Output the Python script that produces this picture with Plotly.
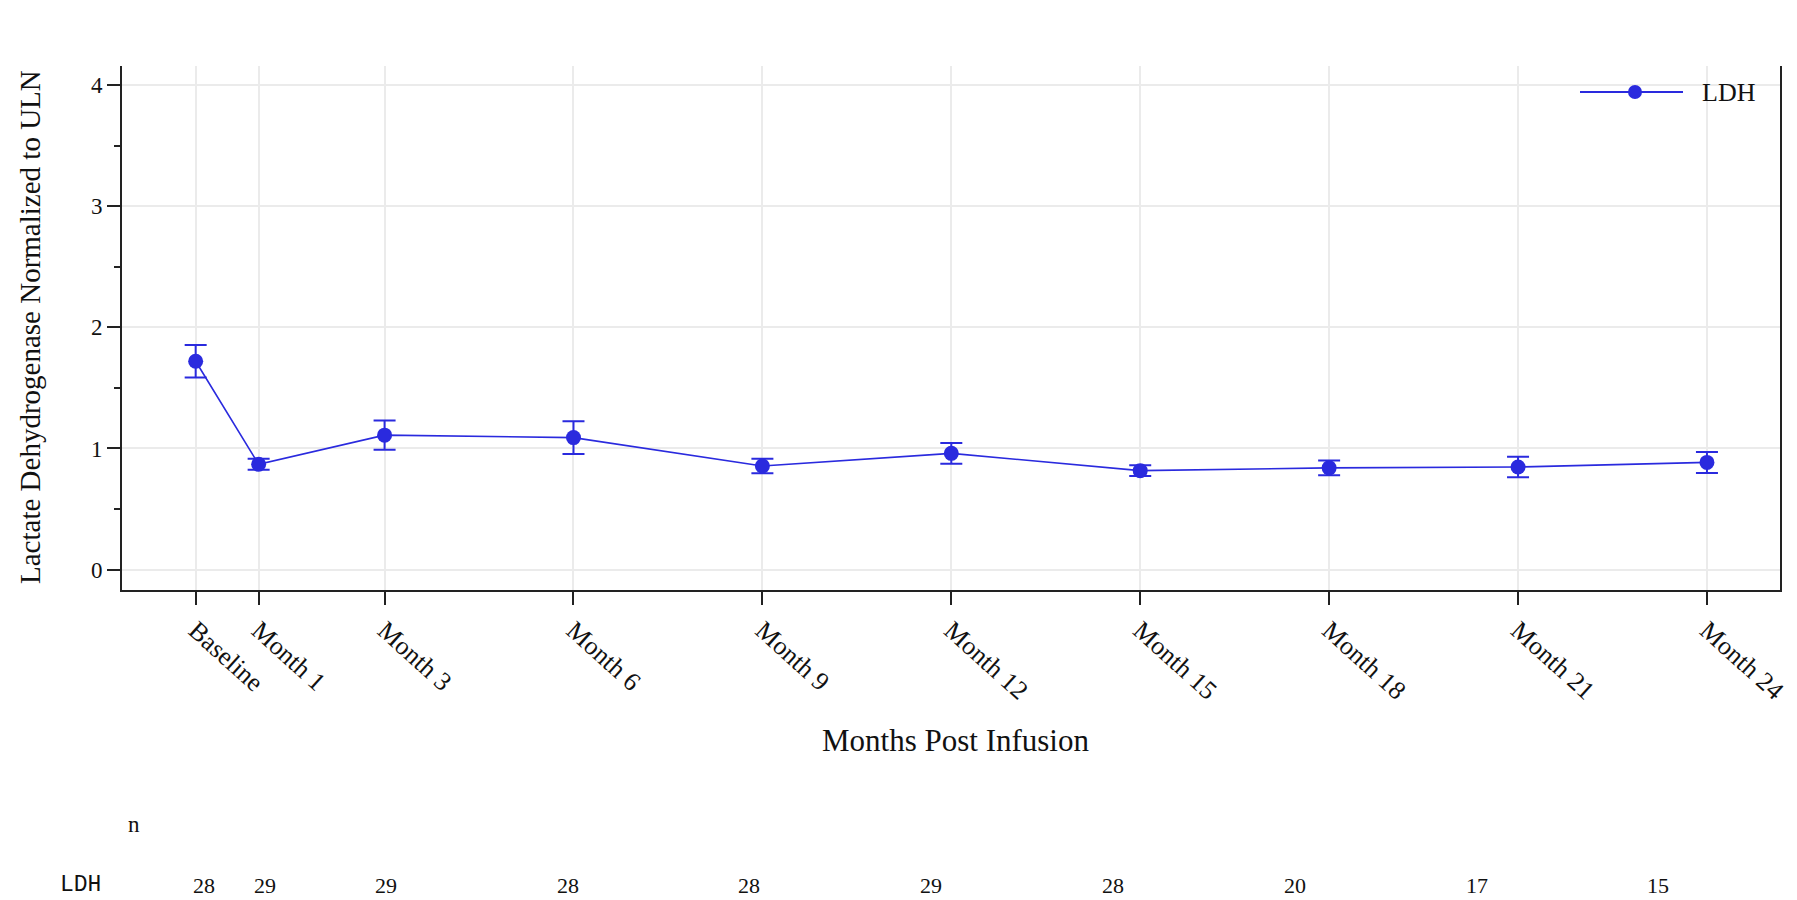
import plotly.graph_objects as go

# Visit schedule (months post infusion) and LDH normalized to ULN
months = [0, 1, 3, 6, 9, 12, 15, 18, 21, 24]
visit_labels = ["Baseline", "Month 1", "Month 3", "Month 6", "Month 9",
                "Month 12", "Month 15", "Month 18", "Month 21", "Month 24"]
ldh_mean = [1.72, 0.87, 1.11, 1.09, 0.855, 0.96, 0.817, 0.84, 0.847, 0.885]
ldh_se = [0.135, 0.045, 0.12, 0.135, 0.06, 0.085, 0.045, 0.06, 0.085, 0.087]
ldh_n = [28, 29, 29, 28, 28, 29, 28, 20, 17, 15]

BLUE = "rgb(42,42,222)"
SERIF = "Liberation Serif"
MONO = "Liberation Mono"

# plot-area geometry in pixels
W, H = 1797, 900
ML, MR, MT, MB = 122, 17, 66, 310
PW, PH = W - ML - MR, H - MT - MB


def px_x(p):
    return (p - ML) / PW


def px_y(p):
    return (H - MB - p) / PH


fig = go.Figure()

fig.add_trace(go.Scatter(
    x=months, y=ldh_mean,
    mode="lines+markers",
    name="LDH",
    line=dict(color=BLUE, width=1.6),
    marker=dict(color=BLUE, size=15, symbol="circle"),
    error_y=dict(type="data", array=ldh_se, visible=True,
                 color=BLUE, thickness=2, width=11),
    showlegend=False,
))

annotations = []

# axis titles
annotations.append(dict(
    text="Months Post Infusion", xref="paper", yref="paper",
    x=px_x(955), y=px_y(740), showarrow=False,
    font=dict(family=SERIF, size=31, color="#111"),
    xanchor="center", yanchor="middle"))
annotations.append(dict(
    text="Lactate Dehydrogenase Normalized to ULN", xref="paper", yref="paper",
    x=px_x(30), y=px_y(327), showarrow=False, textangle=-90,
    font=dict(family=SERIF, size=29, color="#111"),
    xanchor="center", yanchor="middle"))

# at-risk table beneath the chart
row_bottom = px_y(899)
annotations.append(dict(
    text="n", xref="paper", yref="paper", x=px_x(134), y=px_y(824),
    showarrow=False, font=dict(family=SERIF, size=23, color="#111"),
    xanchor="center", yanchor="middle"))
annotations.append(dict(
    text="LDH", xref="paper", yref="paper", x=px_x(80), y=row_bottom,
    showarrow=False, font=dict(family=MONO, size=23, color="#111"),
    xanchor="center", yanchor="bottom", borderpad=0))
for m, n in zip(months, ldh_n):
    annotations.append(dict(
        text=str(n), xref="x2", yref="paper", x=m, y=row_bottom,
        showarrow=False, font=dict(family=SERIF, size=22, color="#111"),
        xanchor="center", yanchor="bottom", borderpad=0))

# legend entry
leg_y = px_y(92)
annotations.append(dict(
    text="LDH", xref="paper", yref="paper", x=px_x(1700), y=leg_y,
    showarrow=False, font=dict(family=SERIF, size=26, color="#111"),
    xanchor="left", yanchor="middle"))
shapes = [
    dict(type="line", xref="paper", yref="paper",
         x0=px_x(1580), x1=px_x(1683), y0=leg_y, y1=leg_y,
         line=dict(color=BLUE, width=2)),
    dict(type="circle", xref="paper", yref="paper",
         xsizemode="pixel", ysizemode="pixel",
         xanchor=px_x(1635), yanchor=leg_y,
         x0=-7, x1=7, y0=-7, y1=7,
         fillcolor=BLUE, line=dict(color=BLUE, width=0)),
]

fig.update_layout(
    width=W, height=H,
    margin=dict(l=ML, r=MR, t=MT, b=MB, autoexpand=False),
    paper_bgcolor="white", plot_bgcolor="white",
    font=dict(family=SERIF, color="#111"),
    annotations=annotations,
    shapes=shapes,
    xaxis=dict(
        range=[-1.17, 25.16],
        tickmode="array", tickvals=months, ticktext=visit_labels,
        tickangle=42,
        tickfont=dict(family=SERIF, size=26, color="#111"),
        ticks="outside", ticklen=13, tickwidth=2, tickcolor="#222",
        showline=True, linecolor="#222", linewidth=2,
        showgrid=True, gridcolor="#ebebeb", gridwidth=2,
        zeroline=False,
    ),
    xaxis2=dict(
        range=[-1.353, 26.007], overlaying="x", visible=False,
        showgrid=False, zeroline=False,
    ),
    yaxis=dict(
        range=[-0.168, 4.157],
        tickvals=[0, 1, 2, 3, 4],
        tickfont=dict(family=SERIF, size=23, color="#111"),
        ticks="outside", ticklen=13, tickwidth=2, tickcolor="#222",
        minor=dict(dtick=0.5, ticks="outside", ticklen=6, tickwidth=1.5,
                   tickcolor="#222", showgrid=False),
        showline=True, mirror=True, linecolor="#222", linewidth=2,
        showgrid=True, gridcolor="#ebebeb", gridwidth=2,
        zeroline=False,
    ),
)

fig.write_html("out.html")
